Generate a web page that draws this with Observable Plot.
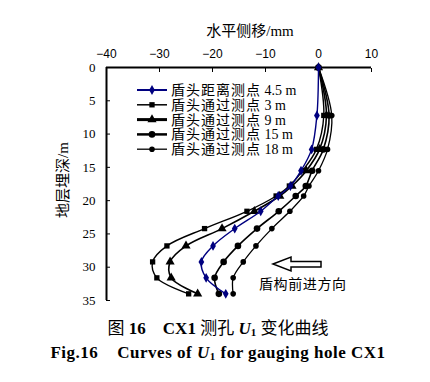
<!DOCTYPE html>
<html><head><meta charset="utf-8">
<script src="https://cdn.jsdelivr.net/npm/d3@7"></script>
<script src="https://cdn.jsdelivr.net/npm/@observablehq/plot@0.6"></script>
<style>
body{margin:0;background:#fff;}
#wrap{position:relative;width:430px;height:382px;overflow:hidden;background:#fff;}
#chart{position:absolute;left:0;top:0;}
#overlay{position:absolute;left:0;top:0;pointer-events:none;}
.cap{position:absolute;left:0;width:436px;text-align:center;font-family:"Liberation Serif","Noto Sans CJK SC",serif;font-size:17px;line-height:20px;color:#000;white-space:pre;}
.cap b{font-weight:bold;}
.cap sub{font-size:11px;vertical-align:-2px;line-height:0;}
g[aria-label="x-axis tick label"] text{font-family:"Liberation Sans",sans-serif;font-size:12px;}
g[aria-label="y-axis tick label"] text{font-family:"Liberation Serif",serif;font-size:13px;}
</style></head><body>
<div id="wrap">
<div id="chart"></div>
<svg id="overlay" width="430" height="382"></svg>
<div class="cap" style="top:319px;">图 <b>16</b>    <b>CX1</b> 测孔 <b><i>U</i><sub>1</sub></b> 变化曲线</div>
<div class="cap" style="top:343px;letter-spacing:0.5px;"><b>Fig.16    Curves of <i>U</i><sub>1</sub> for gauging hole CX1</b></div>
</div>
<script>
// depth (m) of measuring points
const depth = [0, 7.2, 12.3, 15.5, 17.8, 19.3, 21.6, 24.2, 26.8, 29.2, 31.6, 34.0];
// horizontal displacement (mm) per series
const s45 = [0, -0.3, -1.3, -3.3, -5.3, -7.6, -10.9, -15.8, -19.9, -22.1, -21.2, -17.5];
const s3  = [0, 1.0, -0.4, -3.0, -5.5, -8.0, -13.5, -21.5, -28.6, -31.3, -30.5, -24.5];
const s9  = [0, 1.5, 0.2, -2.3, -5.0, -7.3, -12.1, -18.2, -25.0, -28.0, -27.8, -22.8];
const s15 = [0, 2.0, 0.9, -1.2, -2.4, -4.3, -7.5, -11.6, -15.2, -17.9, -19.6, -18.8];
const s18 = [0, 2.5, 1.7, 0.0, -1.8, -2.8, -5.4, -8.8, -11.8, -14.2, -16.1, -16.1];
const seriesNames = ["盾头距离测点 4.5 m", "盾头通过测点 3 m", "盾头通过测点 9 m", "盾头通过测点 15 m", "盾头通过测点 18 m"];
const seriesValues = [s45, s3, s9, s15, s18];
const xTicks = [-40, -30, -20, -10, 0, 10];
const yTicks = [0, 5, 10, 15, 20, 25, 30, 35];
const xTitle = "水平侧移/mm";
const yTitle = "地层埋深/m";
const arrowLabel = "盾构前进方向";

const styles = [
  {color: "#000080", symbol: "diamond", r: 3, lw: 1.4, legLw: 2},
  {color: "#000", symbol: "square", r: 3, lw: 1.4, legLw: 1.5},
  {color: "#000", symbol: "triangle", r: 3.4, lw: 1.6, legLw: 3},
  {color: "#000", symbol: "circle", r: 3.3, lw: 1.6, legLw: 2.5},
  {color: "#000", symbol: "circle", r: 2.8, lw: 1.3, legLw: 1.3}
];

const rows = [];
seriesValues.forEach((vals, si) => vals.forEach((v, i) => rows.push({series: si, x: v, depth: depth[i]})));

const order = [1, 2, 3, 4, 0];
const marks = [
  Plot.axisX({anchor: "top", ticks: xTicks, tickSize: -4, tickPadding: 14, label: null}),
  Plot.axisY({anchor: "left", ticks: yTicks, tickSize: -4, tickPadding: 15, label: null}),
  Plot.ruleY([0], {strokeWidth: 2}),
  Plot.ruleX([-40], {strokeWidth: 2})
];
for (const si of order) {
  const d = rows.filter(r => r.series === si);
  const st = styles[si];
  marks.push(Plot.line(d, {x: "x", y: "depth", curve: "catmull-rom", stroke: st.color, strokeWidth: st.lw}));
  marks.push(Plot.dot(d, {x: "x", y: "depth", symbol: st.symbol, r: st.r, fill: st.color, stroke: "none"}));
}

const chart = Plot.plot({
  width: 430, height: 312,
  marginTop: 67, marginLeft: 106, marginRight: 59, marginBottom: 12,
  x: {domain: [-40, 10]},
  y: {domain: [0, 35], reverse: true},
  style: {background: "white", color: "black", fontFamily: "Liberation Serif"},
  marks
});
document.getElementById("chart").appendChild(chart);

// overlay: titles, legend, arrow annotation
const ov = d3.select("#overlay");
const cjk = '"Liberation Serif","Noto Sans CJK SC",serif';
ov.append("text").attr("x", 250).attr("y", 36).attr("text-anchor", "middle")
  .attr("font-family", cjk).attr("font-size", 15).text(xTitle);
ov.append("text").attr("transform", "translate(68,180) rotate(-90)").attr("text-anchor", "middle")
  .attr("font-family", cjk).attr("font-size", 15).text(yTitle);

const symGen = {diamond: d3.symbolDiamond, square: d3.symbolSquare, triangle: d3.symbolTriangle, circle: d3.symbolCircle};
seriesNames.forEach((name, i) => {
  const st = styles[i];
  const y = 90 + i * 14.8;
  ov.append("line").attr("x1", 137).attr("x2", 167).attr("y1", y).attr("y2", y)
    .attr("stroke", st.color).attr("stroke-width", st.legLw);
  ov.append("path").attr("transform", `translate(152,${y})`)
    .attr("d", d3.symbol(symGen[st.symbol], Math.PI * st.r * st.r)()).attr("fill", st.color);
  const parts = name.split(" ");
  const t = ov.append("text").attr("x", 171).attr("y", y + 5).attr("font-family", cjk).attr("font-size", 14);
  t.append("tspan").attr("letter-spacing", 1).text(parts[0]);
  t.append("tspan").text(" " + parts.slice(1).join(" "));
});

// hollow arrow pointing left
ov.append("path")
  .attr("d", "M273,264 L291,257 L291,261.5 L321,261.5 L321,267 L291,267 L291,271 Z")
  .attr("fill", "white").attr("stroke", "black").attr("stroke-width", 1.5);
ov.append("text").attr("x", 259).attr("y", 289).attr("font-family", cjk).attr("font-size", 14)
  .attr("letter-spacing", 0.6).text(arrowLabel);
</script>
</body></html>
